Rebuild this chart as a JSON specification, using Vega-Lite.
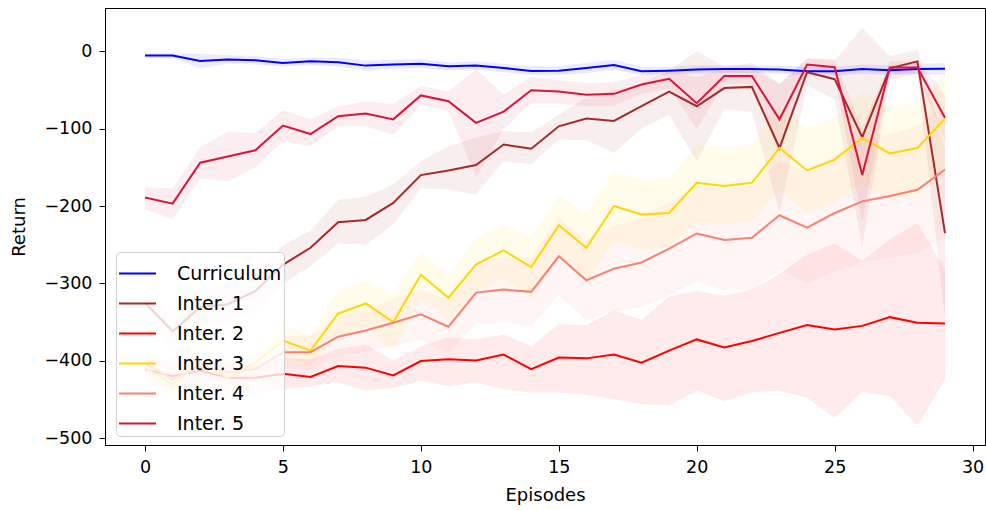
{
"$schema": "https://vega.github.io/schema/vega-lite/v6.json",
"width": 880, "height": 437,
"autosize": {"type": "none"},
"padding": {"left": 105, "top": 8, "right": 1, "bottom": 65},
"background": "white",
"config": {
  "font": "DejaVu Sans",
  "view": {"stroke": "black", "strokeWidth": 1},
  "axis": {"grid": false, "domainColor": "black", "tickColor": "black", "tickSize": 6, "labelFontSize": 17.5, "labelColor": "black", "titleFontSize": 18, "titleFontWeight": "normal", "titleColor": "black", "labelFont": "DejaVu Sans", "titleFont": "DejaVu Sans"}
},
"data": {"values": [
{"s":"Curriculum","x":0,"y":-5.5,"lo":-8.5,"hi":-2.5},
{"s":"Curriculum","x":1,"y":-5.5,"lo":-8.5,"hi":-2.5},
{"s":"Curriculum","x":2,"y":-12.4,"lo":-22,"hi":-3},
{"s":"Curriculum","x":3,"y":-10.7,"lo":-16,"hi":-5},
{"s":"Curriculum","x":4,"y":-11.6,"lo":-17,"hi":-6},
{"s":"Curriculum","x":5,"y":-15,"lo":-20,"hi":-10},
{"s":"Curriculum","x":6,"y":-13,"lo":-18,"hi":-8},
{"s":"Curriculum","x":7,"y":-14,"lo":-20,"hi":-8},
{"s":"Curriculum","x":8,"y":-18.5,"lo":-25,"hi":-12},
{"s":"Curriculum","x":9,"y":-17,"lo":-23,"hi":-11},
{"s":"Curriculum","x":10,"y":-16,"lo":-22,"hi":-10},
{"s":"Curriculum","x":11,"y":-19.4,"lo":-25,"hi":-14},
{"s":"Curriculum","x":12,"y":-18.5,"lo":-24,"hi":-13},
{"s":"Curriculum","x":13,"y":-21.5,"lo":-27,"hi":-16},
{"s":"Curriculum","x":14,"y":-25.3,"lo":-31,"hi":-19},
{"s":"Curriculum","x":15,"y":-25,"lo":-31,"hi":-19},
{"s":"Curriculum","x":16,"y":-21.5,"lo":-28,"hi":-15},
{"s":"Curriculum","x":17,"y":-17.6,"lo":-24,"hi":-11},
{"s":"Curriculum","x":18,"y":-25.8,"lo":-31,"hi":-20},
{"s":"Curriculum","x":19,"y":-25,"lo":-30,"hi":-20},
{"s":"Curriculum","x":20,"y":-23.6,"lo":-29,"hi":-18},
{"s":"Curriculum","x":21,"y":-23,"lo":-28,"hi":-18},
{"s":"Curriculum","x":22,"y":-23,"lo":-28,"hi":-18},
{"s":"Curriculum","x":23,"y":-23.6,"lo":-29,"hi":-18},
{"s":"Curriculum","x":24,"y":-25.8,"lo":-32,"hi":-20},
{"s":"Curriculum","x":25,"y":-25.8,"lo":-32,"hi":-20},
{"s":"Curriculum","x":26,"y":-22.8,"lo":-29,"hi":-17},
{"s":"Curriculum","x":27,"y":-24.5,"lo":-31,"hi":-18},
{"s":"Curriculum","x":28,"y":-23,"lo":-30,"hi":-16},
{"s":"Curriculum","x":29,"y":-22.4,"lo":-30,"hi":-15},
{"s":"Inter. 1","x":0,"y":-325,"lo":-345,"hi":-305},
{"s":"Inter. 1","x":1,"y":-362,"lo":-382,"hi":-342},
{"s":"Inter. 1","x":2,"y":-331,"lo":-356,"hi":-306},
{"s":"Inter. 1","x":3,"y":-327,"lo":-352,"hi":-302},
{"s":"Inter. 1","x":4,"y":-310,"lo":-335,"hi":-285},
{"s":"Inter. 1","x":5,"y":-276,"lo":-301,"hi":-251},
{"s":"Inter. 1","x":6,"y":-254,"lo":-278,"hi":-232},
{"s":"Inter. 1","x":7,"y":-221,"lo":-248,"hi":-192},
{"s":"Inter. 1","x":8,"y":-218,"lo":-250,"hi":-188},
{"s":"Inter. 1","x":9,"y":-196,"lo":-224,"hi":-172},
{"s":"Inter. 1","x":10,"y":-160,"lo":-177,"hi":-142},
{"s":"Inter. 1","x":11,"y":-154,"lo":-179,"hi":-123},
{"s":"Inter. 1","x":12,"y":-147,"lo":-185,"hi":-111},
{"s":"Inter. 1","x":13,"y":-120.5,"lo":-142,"hi":-103},
{"s":"Inter. 1","x":14,"y":-126,"lo":-146,"hi":-105},
{"s":"Inter. 1","x":15,"y":-97,"lo":-114,"hi":-82},
{"s":"Inter. 1","x":16,"y":-87,"lo":-115,"hi":-60},
{"s":"Inter. 1","x":17,"y":-90,"lo":-131,"hi":-50},
{"s":"Inter. 1","x":18,"y":-71,"lo":-100,"hi":-42},
{"s":"Inter. 1","x":19,"y":-52,"lo":-82,"hi":-25},
{"s":"Inter. 1","x":20,"y":-71,"lo":-142,"hi":0},
{"s":"Inter. 1","x":21,"y":-47.5,"lo":-75,"hi":-20},
{"s":"Inter. 1","x":22,"y":-46,"lo":-78,"hi":-15},
{"s":"Inter. 1","x":23,"y":-125,"lo":-208,"hi":-42},
{"s":"Inter. 1","x":24,"y":-27,"lo":-45,"hi":-10},
{"s":"Inter. 1","x":25,"y":-36,"lo":-62,"hi":-12},
{"s":"Inter. 1","x":26,"y":-111,"lo":-252,"hi":30},
{"s":"Inter. 1","x":27,"y":-22,"lo":-38,"hi":-6},
{"s":"Inter. 1","x":28,"y":-13,"lo":-28,"hi":2},
{"s":"Inter. 1","x":29,"y":-235,"lo":-345,"hi":-125},
{"s":"Inter. 2","x":0,"y":-411,"lo":-428,"hi":-394},
{"s":"Inter. 2","x":1,"y":-420,"lo":-437,"hi":-403},
{"s":"Inter. 2","x":2,"y":-413,"lo":-432,"hi":-395},
{"s":"Inter. 2","x":3,"y":-422,"lo":-441,"hi":-403},
{"s":"Inter. 2","x":4,"y":-422,"lo":-442,"hi":-402},
{"s":"Inter. 2","x":5,"y":-417,"lo":-437,"hi":-397},
{"s":"Inter. 2","x":6,"y":-421,"lo":-433,"hi":-398},
{"s":"Inter. 2","x":7,"y":-407,"lo":-428,"hi":-385},
{"s":"Inter. 2","x":8,"y":-409,"lo":-439,"hi":-379},
{"s":"Inter. 2","x":9,"y":-419,"lo":-435,"hi":-400},
{"s":"Inter. 2","x":10,"y":-400.5,"lo":-426,"hi":-381},
{"s":"Inter. 2","x":11,"y":-398,"lo":-433,"hi":-370},
{"s":"Inter. 2","x":12,"y":-399.6,"lo":-428,"hi":-372},
{"s":"Inter. 2","x":13,"y":-392,"lo":-437,"hi":-366},
{"s":"Inter. 2","x":14,"y":-411,"lo":-441,"hi":-381},
{"s":"Inter. 2","x":15,"y":-396,"lo":-441,"hi":-353},
{"s":"Inter. 2","x":16,"y":-397,"lo":-444,"hi":-354},
{"s":"Inter. 2","x":17,"y":-392,"lo":-450,"hi":-335},
{"s":"Inter. 2","x":18,"y":-402.6,"lo":-456,"hi":-347},
{"s":"Inter. 2","x":19,"y":-387,"lo":-458,"hi":-317},
{"s":"Inter. 2","x":20,"y":-372.5,"lo":-439,"hi":-310},
{"s":"Inter. 2","x":21,"y":-383,"lo":-452,"hi":-316},
{"s":"Inter. 2","x":22,"y":-374.6,"lo":-441,"hi":-308},
{"s":"Inter. 2","x":23,"y":-364,"lo":-439,"hi":-288},
{"s":"Inter. 2","x":24,"y":-354,"lo":-448,"hi":-263},
{"s":"Inter. 2","x":25,"y":-359.6,"lo":-474,"hi":-248},
{"s":"Inter. 2","x":26,"y":-355,"lo":-440,"hi":-271},
{"s":"Inter. 2","x":27,"y":-343.7,"lo":-446,"hi":-243},
{"s":"Inter. 2","x":28,"y":-351,"lo":-484,"hi":-222},
{"s":"Inter. 2","x":29,"y":-352,"lo":-424,"hi":-282},
{"s":"Inter. 3","x":0,"y":-409,"lo":-421,"hi":-397},
{"s":"Inter. 3","x":1,"y":-430.6,"lo":-443,"hi":-419},
{"s":"Inter. 3","x":2,"y":-402.6,"lo":-418,"hi":-388},
{"s":"Inter. 3","x":3,"y":-422,"lo":-437,"hi":-407},
{"s":"Inter. 3","x":4,"y":-402.6,"lo":-421,"hi":-385},
{"s":"Inter. 3","x":5,"y":-374,"lo":-394,"hi":-354},
{"s":"Inter. 3","x":6,"y":-387,"lo":-407,"hi":-367},
{"s":"Inter. 3","x":7,"y":-339,"lo":-369,"hi":-309},
{"s":"Inter. 3","x":8,"y":-326,"lo":-356,"hi":-296},
{"s":"Inter. 3","x":9,"y":-350,"lo":-387,"hi":-313},
{"s":"Inter. 3","x":10,"y":-289,"lo":-319,"hi":-259},
{"s":"Inter. 3","x":11,"y":-318.6,"lo":-349,"hi":-289},
{"s":"Inter. 3","x":12,"y":-275.6,"lo":-311,"hi":-241},
{"s":"Inter. 3","x":13,"y":-257.5,"lo":-293,"hi":-223},
{"s":"Inter. 3","x":14,"y":-279,"lo":-319,"hi":-239},
{"s":"Inter. 3","x":15,"y":-225,"lo":-265,"hi":-185},
{"s":"Inter. 3","x":16,"y":-254,"lo":-299,"hi":-209},
{"s":"Inter. 3","x":17,"y":-200,"lo":-245,"hi":-155},
{"s":"Inter. 3","x":18,"y":-211,"lo":-256,"hi":-166},
{"s":"Inter. 3","x":19,"y":-209,"lo":-254,"hi":-164},
{"s":"Inter. 3","x":20,"y":-170,"lo":-220,"hi":-120},
{"s":"Inter. 3","x":21,"y":-174,"lo":-224,"hi":-124},
{"s":"Inter. 3","x":22,"y":-170,"lo":-220,"hi":-120},
{"s":"Inter. 3","x":23,"y":-125,"lo":-180,"hi":-70},
{"s":"Inter. 3","x":24,"y":-154,"lo":-209,"hi":-99},
{"s":"Inter. 3","x":25,"y":-140,"lo":-195,"hi":-85},
{"s":"Inter. 3","x":26,"y":-112,"lo":-172,"hi":-52},
{"s":"Inter. 3","x":27,"y":-132,"lo":-192,"hi":-72},
{"s":"Inter. 3","x":28,"y":-125,"lo":-185,"hi":-65},
{"s":"Inter. 3","x":29,"y":-87,"lo":-147,"hi":-27},
{"s":"Inter. 4","x":0,"y":-403,"lo":-418,"hi":-388},
{"s":"Inter. 4","x":1,"y":-424,"lo":-439,"hi":-409},
{"s":"Inter. 4","x":2,"y":-407,"lo":-422,"hi":-392},
{"s":"Inter. 4","x":3,"y":-415,"lo":-430,"hi":-400},
{"s":"Inter. 4","x":4,"y":-411,"lo":-429,"hi":-393},
{"s":"Inter. 4","x":5,"y":-389,"lo":-409,"hi":-369},
{"s":"Inter. 4","x":6,"y":-389,"lo":-411,"hi":-367},
{"s":"Inter. 4","x":7,"y":-369,"lo":-394,"hi":-344},
{"s":"Inter. 4","x":8,"y":-361,"lo":-389,"hi":-333},
{"s":"Inter. 4","x":9,"y":-351,"lo":-381,"hi":-321},
{"s":"Inter. 4","x":10,"y":-340,"lo":-372,"hi":-308},
{"s":"Inter. 4","x":11,"y":-356,"lo":-391,"hi":-321},
{"s":"Inter. 4","x":12,"y":-312,"lo":-352,"hi":-272},
{"s":"Inter. 4","x":13,"y":-308,"lo":-350,"hi":-266},
{"s":"Inter. 4","x":14,"y":-311,"lo":-356,"hi":-266},
{"s":"Inter. 4","x":15,"y":-265,"lo":-315,"hi":-215},
{"s":"Inter. 4","x":16,"y":-296,"lo":-348,"hi":-244},
{"s":"Inter. 4","x":17,"y":-281,"lo":-336,"hi":-226},
{"s":"Inter. 4","x":18,"y":-273,"lo":-331,"hi":-215},
{"s":"Inter. 4","x":19,"y":-255,"lo":-315,"hi":-195},
{"s":"Inter. 4","x":20,"y":-235.5,"lo":-298,"hi":-174},
{"s":"Inter. 4","x":21,"y":-244,"lo":-309,"hi":-179},
{"s":"Inter. 4","x":22,"y":-241,"lo":-309,"hi":-173},
{"s":"Inter. 4","x":23,"y":-212,"lo":-282,"hi":-142},
{"s":"Inter. 4","x":24,"y":-228,"lo":-300,"hi":-156},
{"s":"Inter. 4","x":25,"y":-209,"lo":-284,"hi":-134},
{"s":"Inter. 4","x":26,"y":-194,"lo":-272,"hi":-116},
{"s":"Inter. 4","x":27,"y":-187,"lo":-267,"hi":-107},
{"s":"Inter. 4","x":28,"y":-179,"lo":-261,"hi":-97},
{"s":"Inter. 4","x":29,"y":-153,"lo":-238,"hi":-68},
{"s":"Inter. 5","x":0,"y":-189,"lo":-204,"hi":-176},
{"s":"Inter. 5","x":1,"y":-197,"lo":-217,"hi":-177},
{"s":"Inter. 5","x":2,"y":-144,"lo":-164,"hi":-124},
{"s":"Inter. 5","x":3,"y":-136,"lo":-168,"hi":-104},
{"s":"Inter. 5","x":4,"y":-128,"lo":-150,"hi":-106},
{"s":"Inter. 5","x":5,"y":-96,"lo":-116,"hi":-76},
{"s":"Inter. 5","x":6,"y":-107,"lo":-123,"hi":-88},
{"s":"Inter. 5","x":7,"y":-84,"lo":-97,"hi":-71},
{"s":"Inter. 5","x":8,"y":-80.5,"lo":-97,"hi":-65},
{"s":"Inter. 5","x":9,"y":-88,"lo":-108,"hi":-68},
{"s":"Inter. 5","x":10,"y":-57,"lo":-69,"hi":-45},
{"s":"Inter. 5","x":11,"y":-64.6,"lo":-77,"hi":-52},
{"s":"Inter. 5","x":12,"y":-92.5,"lo":-163,"hi":-23},
{"s":"Inter. 5","x":13,"y":-78,"lo":-100,"hi":-56},
{"s":"Inter. 5","x":14,"y":-50.4,"lo":-67,"hi":-33},
{"s":"Inter. 5","x":15,"y":-52,"lo":-67,"hi":-37},
{"s":"Inter. 5","x":16,"y":-56,"lo":-71,"hi":-41},
{"s":"Inter. 5","x":17,"y":-55,"lo":-70,"hi":-40},
{"s":"Inter. 5","x":18,"y":-43,"lo":-55,"hi":-31},
{"s":"Inter. 5","x":19,"y":-35.5,"lo":-48,"hi":-23},
{"s":"Inter. 5","x":20,"y":-67,"lo":-100,"hi":-34},
{"s":"Inter. 5","x":21,"y":-32,"lo":-42,"hi":-22},
{"s":"Inter. 5","x":22,"y":-32,"lo":-42,"hi":-22},
{"s":"Inter. 5","x":23,"y":-88,"lo":-133,"hi":-43},
{"s":"Inter. 5","x":24,"y":-17,"lo":-25,"hi":-9},
{"s":"Inter. 5","x":25,"y":-20.5,"lo":-31,"hi":-10},
{"s":"Inter. 5","x":26,"y":-160,"lo":-220,"hi":-100},
{"s":"Inter. 5","x":27,"y":-21,"lo":-29,"hi":-13},
{"s":"Inter. 5","x":28,"y":-21,"lo":-29,"hi":-13},
{"s":"Inter. 5","x":29,"y":-86,"lo":-116,"hi":-56}
]},
"encoding": {
  "x": {"field": "x", "type": "quantitative", "title": "Episodes",
        "scale": {"domain": [-1.45, 30.45], "nice": false, "zero": false},
        "axis": {"values": [0,5,10,15,20,25,30], "labelPadding": 7, "titlePadding": 11}},
  "color": {"field": "s", "type": "nominal",
        "scale": {"domain": ["Curriculum","Inter. 1","Inter. 2","Inter. 3","Inter. 4","Inter. 5"],
                  "range": ["#0000ff","#a52a2a","#ff0000","#ffd700","#fa8072","#dc143c"]},
        "legend": {"title": null, "orient": "none", "legendX": 11, "legendY": 244,
                   "symbolType": "stroke", "symbolSize": 1369, "symbolStrokeWidth": 2, "symbolOpacity": 1,
                   "labelFontSize": 19, "labelFont": "DejaVu Sans", "labelColor": "black", "labelOffset": 20,
                   "fillColor": "rgba(255,255,255,0.8)", "strokeColor": "#d0d0d0", "cornerRadius": 4,
                   "padding": 2, "rowPadding": 0}}
},
"layer": [
  {"mark": {"type": "area", "opacity": 0.08},
   "encoding": {"y": {"field": "lo", "type": "quantitative", "title": "Return",
        "scale": {"domain": [-509, 56], "nice": false, "zero": false},
        "axis": {"values": [-500,-400,-300,-200,-100,0], "labelPadding": 7, "titlePadding": 15}},
     "y2": {"field": "hi"}}},
  {"mark": {"type": "line", "strokeWidth": 2},
   "encoding": {"y": {"field": "y", "type": "quantitative"}}}
]
}
